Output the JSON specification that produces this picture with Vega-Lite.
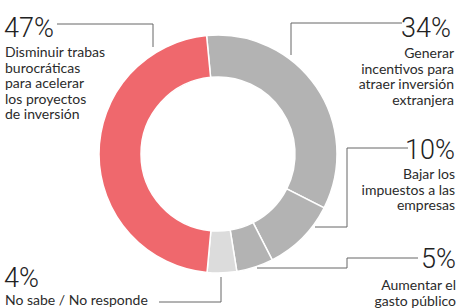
{
  "$schema": "https://vega.github.io/schema/vega-lite/v6.json",
  "width": 436,
  "height": 308,
  "autosize": {"type": "none"},
  "padding": {"left": 0, "top": 0, "right": 22, "bottom": 0},
  "background": "white",
  "config": {"view": {"stroke": null}},
  "datasets": {
    "donut": [
      {"cat": "Generar incentivos para atraer inversión extranjera", "value": 34, "ord": 1},
      {"cat": "Bajar los impuestos a las empresas", "value": 10, "ord": 2},
      {"cat": "Aumentar el gasto público", "value": 5, "ord": 3},
      {"cat": "No sabe / No responde", "value": 4, "ord": 4},
      {"cat": "Disminuir trabas burocráticas para acelerar los proyectos de inversión", "value": 47, "ord": 5}
    ],
    "labels": [
      {"pct": "47%", "desc": "Disminuir trabas\nburocráticas\npara acelerar\nlos proyectos\nde inversión", "side": "left", "px": 4, "py": 37, "dx": 5, "dy": 57},
      {"pct": "4%", "desc": "No sabe / No responde", "side": "left", "px": 4, "py": 287, "dx": 5, "dy": 305},
      {"pct": "34%", "desc": "Generar\nincentivos para\natraer inversión\nextranjera", "side": "right", "px": 451, "py": 37, "dx": 454, "dy": 58},
      {"pct": "10%", "desc": "Bajar los\nimpuestos a las\nempresas", "side": "right", "px": 455, "py": 159, "dx": 455, "dy": 179},
      {"pct": "5%", "desc": "Aumentar el\ngasto público", "side": "right", "px": 456, "py": 268, "dx": 456, "dy": 290}
    ],
    "leaders": [
      {"k": "47", "x": 57, "y": 24, "x2": 153, "y2": 24},
      {"k": "47", "x": 153, "y": 24, "x2": 153, "y2": 47},
      {"k": "34", "x": 291, "y": 23, "x2": 402, "y2": 23},
      {"k": "34", "x": 291, "y": 23, "x2": 291, "y2": 55},
      {"k": "10", "x": 347, "y": 148, "x2": 408, "y2": 148},
      {"k": "10", "x": 347, "y": 148, "x2": 347, "y2": 227},
      {"k": "10", "x": 315, "y": 227, "x2": 347, "y2": 227},
      {"k": "5", "x": 347, "y": 258, "x2": 418, "y2": 258},
      {"k": "5", "x": 347, "y": 258, "x2": 347, "y2": 268},
      {"k": "5", "x": 257, "y": 268, "x2": 347, "y2": 268},
      {"k": "4", "x": 159, "y": 302, "x2": 221, "y2": 302},
      {"k": "4", "x": 221, "y": 277, "x2": 221, "y2": 302}
    ]
  },
  "layer": [
    {
      "data": {"name": "donut"},
      "mark": {"type": "arc", "innerRadius": 77, "outerRadius": 119, "stroke": "white", "strokeWidth": 1.5},
      "encoding": {
        "theta": {"field": "value", "type": "quantitative", "stack": true, "scale": {"range": [-0.096, 6.187]}},
        "order": {"field": "ord", "type": "quantitative"},
        "color": {
          "field": "ord", "type": "nominal",
          "scale": {"domain": [1, 2, 3, 4, 5], "range": ["#b3b3b3", "#b3b3b3", "#b3b3b3", "#dcdcdc", "#ef686d"]},
          "legend": null
        }
      }
    },
    {
      "data": {"name": "leaders"},
      "mark": {"type": "rule", "color": "#666666", "strokeWidth": 1},
      "encoding": {
        "x": {"field": "x", "type": "quantitative", "scale": {"domain": [0, 436], "nice": false, "zero": false}, "axis": null},
        "y": {"field": "y", "type": "quantitative", "scale": {"domain": [0, 308], "nice": false, "zero": false, "reverse": true}, "axis": null},
        "x2": {"field": "x2"},
        "y2": {"field": "y2"}
      }
    },
    {
      "data": {"name": "labels"},
      "transform": [{"filter": "datum.side == 'left'"}],
      "mark": {"type": "text", "align": "left", "baseline": "alphabetic", "font": "Roboto", "fontWeight": 300, "fontSize": 27, "color": "#222222"},
      "encoding": {
        "x": {"field": "px", "type": "quantitative", "scale": {"domain": [0, 436], "nice": false, "zero": false}, "axis": null},
        "y": {"field": "py", "type": "quantitative", "scale": {"domain": [0, 308], "nice": false, "zero": false, "reverse": true}, "axis": null},
        "text": {"field": "pct"}
      }
    },
    {
      "data": {"name": "labels"},
      "transform": [{"filter": "datum.side == 'right'"}],
      "mark": {"type": "text", "align": "right", "baseline": "alphabetic", "font": "Roboto", "fontWeight": 300, "fontSize": 27, "color": "#222222"},
      "encoding": {
        "x": {"field": "px", "type": "quantitative", "scale": {"domain": [0, 436], "nice": false, "zero": false}, "axis": null},
        "y": {"field": "py", "type": "quantitative", "scale": {"domain": [0, 308], "nice": false, "zero": false, "reverse": true}, "axis": null},
        "text": {"field": "pct"}
      }
    },
    {
      "data": {"name": "labels"},
      "transform": [{"filter": "datum.side == 'left'"}],
      "mark": {"type": "text", "align": "left", "baseline": "alphabetic", "lineBreak": "\n", "lineHeight": 15.5, "font": "Lato", "fontSize": 14, "color": "#2b2b2b"},
      "encoding": {
        "x": {"field": "dx", "type": "quantitative", "scale": {"domain": [0, 436], "nice": false, "zero": false}, "axis": null},
        "y": {"field": "dy", "type": "quantitative", "scale": {"domain": [0, 308], "nice": false, "zero": false, "reverse": true}, "axis": null},
        "text": {"field": "desc"}
      }
    },
    {
      "data": {"name": "labels"},
      "transform": [{"filter": "datum.side == 'right'"}],
      "mark": {"type": "text", "align": "right", "baseline": "alphabetic", "lineBreak": "\n", "lineHeight": 15.5, "font": "Lato", "fontSize": 14, "color": "#2b2b2b"},
      "encoding": {
        "x": {"field": "dx", "type": "quantitative", "scale": {"domain": [0, 436], "nice": false, "zero": false}, "axis": null},
        "y": {"field": "dy", "type": "quantitative", "scale": {"domain": [0, 308], "nice": false, "zero": false, "reverse": true}, "axis": null},
        "text": {"field": "desc"}
      }
    }
  ]
}
